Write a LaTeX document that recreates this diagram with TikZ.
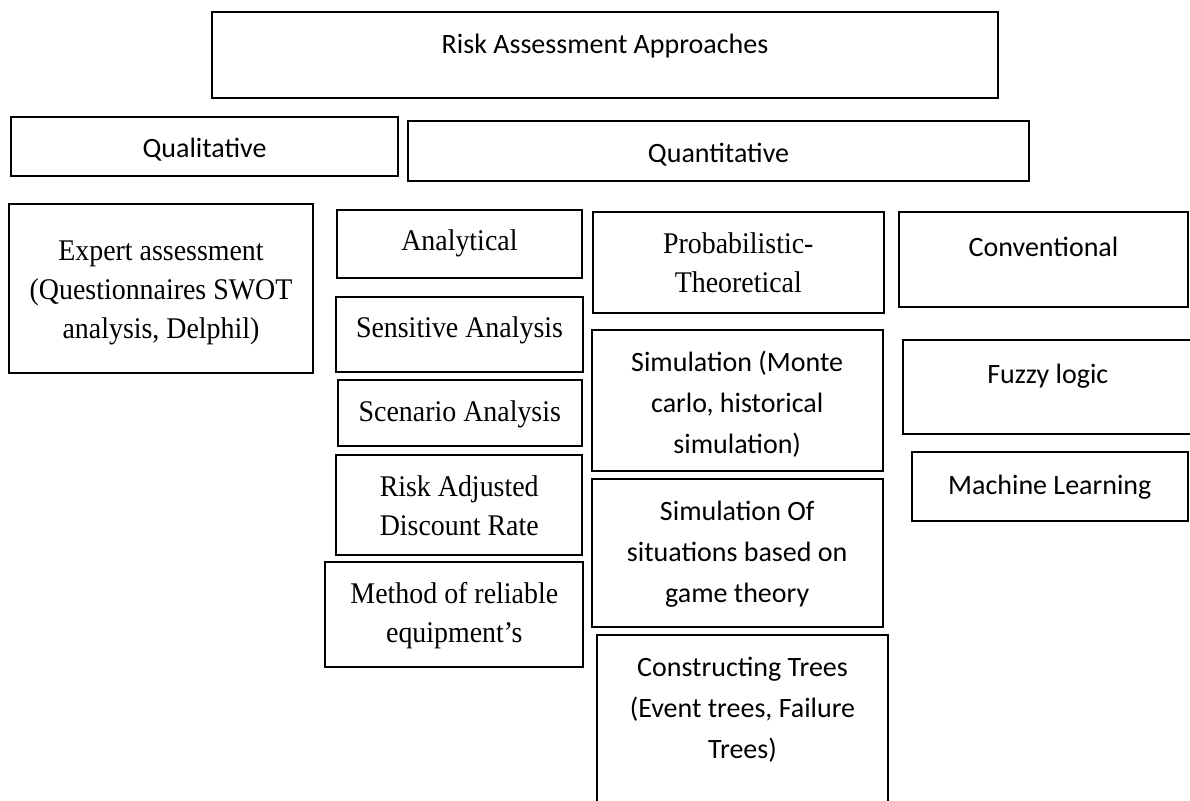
\documentclass[tikz,border=0pt]{standalone}
\usepackage{fontspec}
\newfontfamily\sansf{Carlito}
\newfontfamily\seriff[FakeStretch=0.93]{Liberation Serif}
\newcommand\mlines[1]{\begin{tabular}[t]{@{}c@{}}#1\end{tabular}}
\begin{document}
\begin{tikzpicture}[x=1pt,y=-1pt,
  box/.style={draw, line width=2pt, inner sep=0pt, outer sep=0pt},
  st/.style={font=\sansf\fontsize{28}{41}\selectfont, anchor=base, inner sep=0pt},
  rt/.style={font=\seriff\fontsize{30}{39}\selectfont, anchor=base, inner sep=0pt}]
\useasboundingbox (0,0) rectangle (1190,800);
\fill[white] (0,0) rectangle (1190,800);

% boxes
\node[box, minimum width=786pt, minimum height=86pt] (top) at (605,55) {};
\node[box, minimum width=387pt, minimum height=59pt] (qual) at (204.5,146.5) {};
\node[box, minimum width=621pt, minimum height=60pt] (quant) at (718.5,151) {};
\node[box, minimum width=304pt, minimum height=168.7pt] (expert) at (161,288.3) {};
\node[box, minimum width=245pt, minimum height=68pt] (anal) at (459.4,244) {};
\node[box, minimum width=247.7pt, minimum height=75pt] (sens) at (459.5,334.2) {};
\node[box, minimum width=244.5pt, minimum height=66.5pt] (scen) at (459.8,413.2) {};
\node[box, minimum width=245.6pt, minimum height=100pt] (radr) at (459.2,505) {};
\node[box, minimum width=258pt, minimum height=105pt] (meth) at (454.3,614.2) {};
\node[box, minimum width=291.3pt, minimum height=101pt] (prob) at (738.3,262.2) {};
\node[box, minimum width=291pt, minimum height=141pt] (simmc) at (737.2,400.5) {};
\node[box, minimum width=291pt, minimum height=147.7pt] (simgame) at (737.2,552.8) {};
\node[box, minimum width=291.6pt, minimum height=170pt] (trees) at (742.5,720) {};
\node[box, minimum width=289pt, minimum height=94.7pt] (conv) at (1043.5,259.3) {};
\node[box, minimum width=290.3pt, minimum height=94.5pt] (fuzzy) at (1047.8,386.8) {};
\node[box, minimum width=276.5pt, minimum height=69pt] (ml) at (1049.8,486.2) {};

% texts
\node[st] (ttop) at (605,53.3) {Risk Assessment Approaches};
\node[st] (tqual) at (204.5,157) {Qualitative};
\node[st] (tquant) at (718.5,162.7) {Quantitative};
\node[rt] (texpert) at (161,260) {\mlines{Expert assessment\\(Questionnaires SWOT\\analysis, Delphil)}};
\node[rt] (tanal) at (459.4,250.7) {Analytical};
\node[rt] (tsens) at (459.5,337.3) {Sensitive Analysis};
\node[rt] (tscen) at (459.8,421.7) {Scenario Analysis};
\node[rt] (tradr) at (459.2,496.7) {\mlines{Risk Adjusted\\Discount Rate}};
\node[rt] (tmeth) at (454.3,603.3) {\mlines{Method of reliable\\equipment’s}};
\node[rt] (tprob) at (738.3,253.3) {\mlines{Probabilistic-\\Theoretical}};
\node[st] (tsimmc) at (737.2,371.7) {\mlines{Simulation (Monte\\carlo, historical\\simulation)}};
\node[st] (tsimgame) at (737.2,520.7) {\mlines{Simulation Of\\situations based on\\game theory}};
\node[st] (ttrees) at (742.5,676.7) {\mlines{Constructing Trees\\(Event trees, Failure\\Trees)}};
\node[st] (tconv) at (1043.5,256.7) {Conventional};
\node[st] (tfuzzy) at (1047.8,383.3) {Fuzzy logic};
\node[st] (tml) at (1049.8,494) {Machine Learning};
\end{tikzpicture}
\end{document}
